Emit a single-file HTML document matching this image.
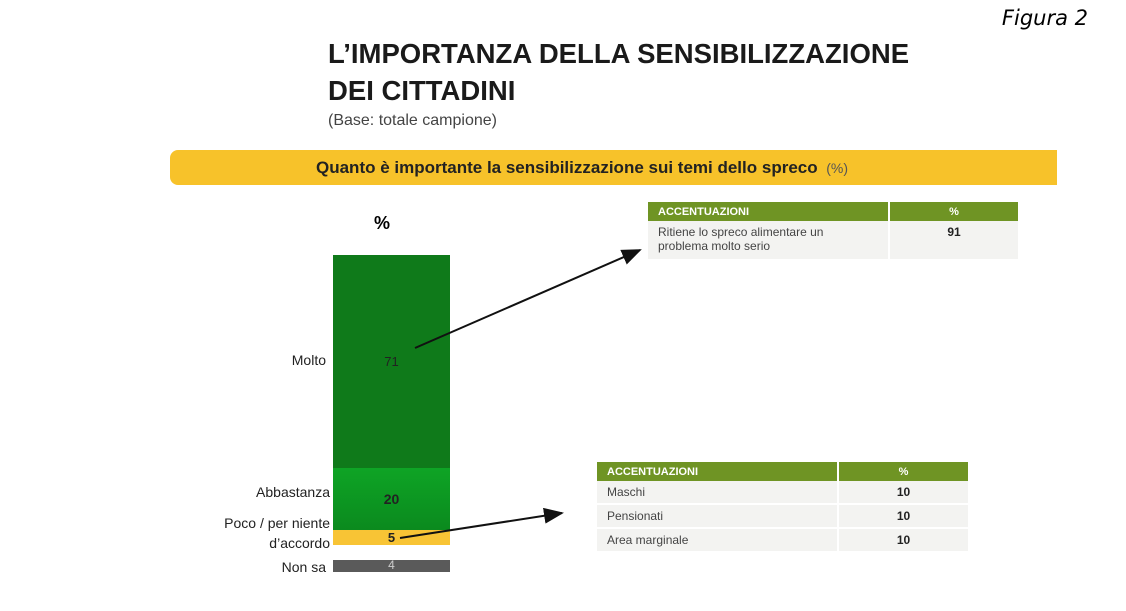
<!DOCTYPE html><html><head><style>
body{margin:0;width:1126px;height:611px;background:#fff;position:relative;font-family:"Liberation Sans",sans-serif;overflow:hidden}
.a{position:absolute}
.t{font-weight:bold;font-size:27.5px;color:#1a1a1a;left:328px;letter-spacing:0px}
.lbl{font-size:14px;color:#222;text-align:right;width:200px}
.tb{border-collapse:collapse;font-size:12px;color:#444}
.tb th{background:#6f9424;color:#fff;text-align:left;font-size:11px;padding:0 10px;height:19px}
.tb th.c{text-align:center;border-left:2px solid #fff}
.tb td{padding:0 10px;border-bottom:2px solid #fff;background:#f3f3f1}
.tb td.c{text-align:center;font-weight:bold;color:#222;border-left:2px solid #fff}
</style></head><body>
<div class="a" style="right:38px;top:6px;font-style:italic;font-size:21px;font-family:'DejaVu Sans',sans-serif">Figura 2</div>
<div class="a t" style="top:38px">L’IMPORTANZA DELLA SENSIBILIZZAZIONE</div>
<div class="a t" style="top:75px">DEI CITTADINI</div>
<div class="a" style="left:328px;top:112px;font-size:16px;color:#444">(Base: totale campione)</div>
<div class="a" style="left:170px;top:150px;width:887px;height:35px;background:#f7c22a;border-radius:8px 0 0 8px"></div>
<div class="a" style="left:316px;top:158px;font-size:17px;font-weight:bold;color:#222">Quanto è importante la sensibilizzazione sui temi dello spreco <span style="font-weight:normal;font-size:14px;color:#555">&nbsp;(%)</span></div>
<div class="a" style="left:374px;top:213px;font-size:18px;font-weight:bold">%</div>
<div class="a" style="left:333px;top:255px;width:117px;height:213px;background:#0f7a1a"></div>
<div class="a" style="left:333px;top:468px;width:117px;height:62px;background:linear-gradient(#0ea425,#0b8a1e)"></div>
<div class="a" style="left:333px;top:530px;width:117px;height:15px;background:#f8c435"></div>
<div class="a" style="left:333px;top:560px;width:117px;height:12px;background:#5a5a5a"></div>
<div class="a" style="left:333px;width:117px;text-align:center;top:354px;font-size:13px;color:#222">71</div>
<div class="a" style="left:333px;width:117px;text-align:center;top:491px;font-size:14px;font-weight:bold;color:#222">20</div>
<div class="a" style="left:333px;width:117px;text-align:center;top:530px;font-size:13px;font-weight:bold;color:#222">5</div>
<div class="a" style="left:333px;width:117px;text-align:center;top:558px;font-size:12px;color:#ccc">4</div>
<div class="a lbl" style="left:126px;top:352px">Molto</div>
<div class="a lbl" style="left:130px;top:484px">Abbastanza</div>
<div class="a lbl" style="left:130px;top:515px">Poco / per niente</div>
<div class="a lbl" style="left:130px;top:535px">d’accordo</div>
<div class="a lbl" style="left:126px;top:559px">Non sa</div>
<svg class="a" style="left:0;top:0" width="1126" height="611"><defs><marker id="m" markerWidth="10" markerHeight="8" refX="9" refY="4" orient="auto"><path d="M0,0L10,4L0,8z" fill="#111"/></marker></defs>
<line x1="415" y1="348" x2="640" y2="250" stroke="#111" stroke-width="2" marker-end="url(#m)"/>
<line x1="400" y1="538" x2="562" y2="513" stroke="#111" stroke-width="2" marker-end="url(#m)"/></svg>
<table class="a tb" style="left:648px;top:202px;width:370px;table-layout:fixed"><tr><th style="width:220px">ACCENTUAZIONI</th><th class="c">%</th></tr>
<tr><td style="height:34px;line-height:14px;vertical-align:top;padding-top:4px;padding-right:40px">Ritiene lo spreco alimentare un problema molto serio</td><td class="c" style="vertical-align:top;padding-top:4px">91</td></tr></table>
<table class="a tb" style="left:597px;top:462px;width:371px"><tr><th style="width:220px">ACCENTUAZIONI</th><th class="c">%</th></tr>
<tr><td style="height:22px">Maschi</td><td class="c">10</td></tr>
<tr><td style="height:22px">Pensionati</td><td class="c">10</td></tr>
<tr><td style="height:22px">Area marginale</td><td class="c">10</td></tr></table>
</body></html>
